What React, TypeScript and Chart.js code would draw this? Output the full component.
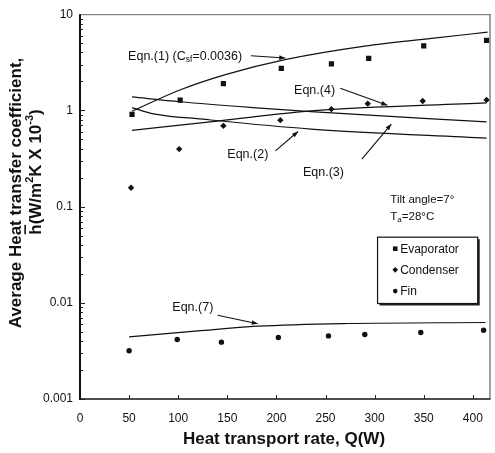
import React, { useEffect, useRef } from "react";
import { Chart, registerables } from "chart.js";

Chart.register(...registerables);

// ---------------- data ----------------
const xTickValues = [0, 50, 100, 150, 200, 250, 300, 350, 400];
const yTickValues = [0.001, 0.01, 0.1, 1, 10];

const evapQ = [53, 102, 146, 205, 256, 294, 350, 414];
const evaporator = [0.91, 1.28, 1.9, 2.74, 3.05, 3.47, 4.69, 5.33];

const condQ = [52, 101, 146, 204, 256, 293, 349, 414];
const condenser = [0.157, 0.396, 0.691, 0.792, 1.03, 1.176, 1.254, 1.285];

const finQ = [50, 99, 144, 202, 253, 290, 347, 411];
const fin = [0.00317, 0.00416, 0.0039, 0.00436, 0.00453, 0.00468, 0.00491, 0.00519];

const eqn1Q = [53, 101, 149, 210, 290, 358, 415];
const eqn1 = [0.98, 1.62, 2.37, 3.39, 4.66, 5.6, 6.5];

const eqn2Q = [53, 75, 125, 235, 414];
const eqn2 = [1.07, 0.92, 0.81, 0.64, 0.515];

const eqn3Q = [53, 102, 176, 235, 414];
const eqn3 = [1.38, 1.23, 1.07, 0.97, 0.76];

const eqn4Q = [53, 142, 235, 414];
const eqn4 = [0.62, 0.78, 0.99, 1.2];

const eqn7Q = [50, 120, 181, 272, 413];
const eqn7 = [0.00442, 0.0051, 0.00571, 0.00609, 0.00624];

const legendLabels = ["Evaporator", "Condenser", "Fin"];

// ---------------- style ----------------
const FONT = '"Liberation Sans", Arial, Helvetica, sans-serif';
const INK = "#111";

type Seg = { t: string; size: number; bold?: boolean; dy?: number; over?: boolean };

function segFont(s: Seg) {
  return `${s.bold ? "bold " : ""}${s.size}px ${FONT}`;
}
function richWidth(ctx: CanvasRenderingContext2D, segs: Seg[]) {
  let w = 0;
  for (const s of segs) {
    ctx.font = segFont(s);
    w += ctx.measureText(s.t).width;
  }
  return w;
}
function drawRich(ctx: CanvasRenderingContext2D, segs: Seg[], x0: number, base: number) {
  let x = x0;
  ctx.textBaseline = "alphabetic";
  ctx.textAlign = "left";
  for (const s of segs) {
    ctx.font = segFont(s);
    ctx.fillText(s.t, x, base + (s.dy || 0));
    const w = ctx.measureText(s.t).width;
    if (s.over) ctx.fillRect(x + 0.5, base - s.size * 0.98, w - 1, 1.6);
    x += w;
  }
}

const A = 12.5; // annotation font size
const annotations: { segs: Seg[]; q: number; v: number; from: [number, number]; to: [number, number] }[] = [
  {
    segs: [
      { t: "Eqn.(1) (C", size: A },
      { t: "sf", size: 8.5, dy: 2.5 },
      { t: "=0.0036)", size: A },
    ],
    q: 49,
    v: 3.75,
    from: [174, 3.7],
    to: [209, 3.5],
  },
  { segs: [{ t: "Eqn.(4)", size: A }], q: 218, v: 1.63, from: [265, 1.7], to: [313, 1.13] },
  { segs: [{ t: "Eqn.(2)", size: A }], q: 150, v: 0.36, from: [199, 0.38], to: [222, 0.603] },
  { segs: [{ t: "Eqn.(3)", size: A }], q: 227, v: 0.23, from: [287, 0.312], to: [317, 0.72] },
  { segs: [{ t: "Eqn.(7)", size: A }], q: 94, v: 0.0092, from: [140, 0.00742], to: [181, 0.00606] },
];

const notes: { segs: Seg[]; q: number; v: number }[] = [
  { segs: [{ t: "Tilt angle=7°", size: 11.5 }], q: 316, v: 0.121 },
  {
    segs: [
      { t: "T", size: 11.5 },
      { t: "a", size: 8, dy: 2.5 },
      { t: "=28°C", size: 11.5 },
    ],
    q: 316,
    v: 0.0806,
  },
];

function pts(xs: number[], ys: number[]) {
  return xs.map((x, i) => ({ x, y: ys[i] }));
}

function lineDs(label: string, xs: number[], ys: number[]) {
  return {
    label,
    data: pts(xs, ys),
    showLine: true,
    borderColor: INK,
    borderWidth: 1.2,
    pointRadius: 0,
    fill: false,
    cubicInterpolationMode: "monotone" as const,
  };
}
function markDs(label: string, xs: number[], ys: number[], style: string, r: number) {
  return {
    label,
    data: pts(xs, ys),
    showLine: false,
    pointStyle: style,
    pointRadius: r,
    pointBackgroundColor: INK,
    pointBorderColor: INK,
    pointBorderWidth: 0,
  };
}

function drawMarker(ctx: CanvasRenderingContext2D, kind: number, x: number, y: number) {
  ctx.beginPath();
  if (kind === 0) {
    ctx.rect(x - 2.3, y - 2.3, 4.6, 4.6);
  } else if (kind === 1) {
    ctx.moveTo(x - 2.8, y);
    ctx.lineTo(x, y - 2.8);
    ctx.lineTo(x + 2.8, y);
    ctx.lineTo(x, y + 2.8);
    ctx.closePath();
  } else {
    ctx.arc(x, y, 2.3, 0, Math.PI * 2);
  }
  ctx.fill();
}

const decorPlugin = {
  id: "decor",
  beforeDraw(chart: any) {
    const ctx = chart.ctx as CanvasRenderingContext2D;
    ctx.save();
    ctx.fillStyle = "#fff";
    ctx.fillRect(0, 0, chart.width, chart.height);
    ctx.restore();
  },
  afterDraw(chart: any) {
    const ctx = chart.ctx as CanvasRenderingContext2D;
    const a = chart.chartArea;
    const xs = chart.scales.x;
    const ys = chart.scales.y;
    const px = (q: number) => xs.getPixelForValue(q);
    const py = (v: number) => ys.getPixelForValue(v);
    ctx.save();

    // frame
    ctx.strokeStyle = "#666";
    ctx.lineWidth = 1;
    ctx.beginPath();
    ctx.moveTo(a.left, a.top + 0.5);
    ctx.lineTo(a.right, a.top + 0.5);
    ctx.stroke();
    ctx.strokeStyle = "#444";
    ctx.beginPath();
    ctx.moveTo(a.right - 0.5, a.top);
    ctx.lineTo(a.right - 0.5, a.bottom);
    ctx.stroke();
    ctx.strokeStyle = INK;
    ctx.lineWidth = 1.6;
    ctx.beginPath();
    ctx.moveTo(a.left, a.bottom);
    ctx.lineTo(a.right, a.bottom);
    ctx.stroke();
    ctx.lineWidth = 2;
    ctx.beginPath();
    ctx.moveTo(a.left, a.top);
    ctx.lineTo(a.left, a.bottom + 1);
    ctx.stroke();

    // y ticks (inside)
    ctx.lineWidth = 1;
    ctx.strokeStyle = "#222";
    for (let e = -3; e <= 0; e++) {
      for (let k = 1; k <= 9; k++) {
        const v = k * Math.pow(10, e);
        const yy = Math.round(py(v)) + 0.5;
        const len = k === 1 ? 5 : 3;
        ctx.beginPath();
        ctx.moveTo(a.left, yy);
        ctx.lineTo(a.left + len, yy);
        ctx.stroke();
      }
    }
    // x ticks (inside)
    for (const q of xTickValues) {
      if (q === 0) continue;
      const xx = Math.round(px(q)) + 0.5;
      ctx.beginPath();
      ctx.moveTo(xx, a.bottom);
      ctx.lineTo(xx, a.bottom - 4);
      ctx.stroke();
    }

    // annotations
    ctx.fillStyle = INK;
    ctx.strokeStyle = INK;
    ctx.lineWidth = 1.1;
    for (const an of annotations) {
      drawRich(ctx, an.segs, px(an.q), py(an.v) + 4.5);
      const x1 = px(an.from[0]);
      const y1 = py(an.from[1]);
      const x2 = px(an.to[0]);
      const y2 = py(an.to[1]);
      ctx.beginPath();
      ctx.moveTo(x1, y1);
      ctx.lineTo(x2, y2);
      ctx.stroke();
      const ang = Math.atan2(y2 - y1, x2 - x1);
      const L = 6;
      const W = 2.3;
      ctx.beginPath();
      ctx.moveTo(x2, y2);
      ctx.lineTo(x2 - L * Math.cos(ang) + W * Math.sin(ang), y2 - L * Math.sin(ang) - W * Math.cos(ang));
      ctx.lineTo(x2 - L * Math.cos(ang) - W * Math.sin(ang), y2 - L * Math.sin(ang) + W * Math.cos(ang));
      ctx.closePath();
      ctx.fill();
    }
    for (const n of notes) {
      drawRich(ctx, n.segs, px(n.q), py(n.v) + 4);
    }

    // legend box
    const lx1 = px(303);
    const lx2 = px(405);
    const ly1 = py(0.0481);
    const ly2 = py(0.00983);
    ctx.fillStyle = "#222";
    ctx.fillRect(lx1 + 2, ly1 + 2, lx2 - lx1, ly2 - ly1);
    ctx.fillStyle = "#fff";
    ctx.fillRect(lx1, ly1, lx2 - lx1, ly2 - ly1);
    ctx.strokeStyle = "#111";
    ctx.lineWidth = 1.2;
    ctx.strokeRect(lx1, ly1, lx2 - lx1, ly2 - ly1);
    const rowV = [0.0365, 0.022, 0.01323];
    ctx.fillStyle = INK;
    legendLabels.forEach((lab, i) => {
      const yy = py(rowV[i]);
      drawMarker(ctx, i, px(321), yy);
      drawRich(ctx, [{ t: lab, size: 12 }], px(326), yy + 4.3);
    });

    // axis titles
    ctx.fillStyle = INK;
    const xt: Seg[] = [{ t: "Heat transport rate, Q(W)", size: 17, bold: true }];
    const xw = richWidth(ctx, xt);
    drawRich(ctx, xt, 284 - xw / 2, 444);

    const y1: Seg[] = [{ t: "Average Heat transfer coefficient,", size: 17, bold: true }];
    const w1 = richWidth(ctx, y1);
    ctx.save();
    ctx.translate(21, 193);
    ctx.rotate(-Math.PI / 2);
    drawRich(ctx, y1, -w1 / 2, 0);
    ctx.restore();

    const y2: Seg[] = [
      { t: "h", size: 17, bold: true, over: true },
      { t: "(W/m", size: 17, bold: true },
      { t: "2", size: 11, bold: true, dy: -8 },
      { t: "K X 10", size: 17, bold: true },
      { t: "-3", size: 11, bold: true, dy: -8 },
      { t: ")", size: 17, bold: true },
    ];
    const w2 = richWidth(ctx, y2);
    ctx.save();
    ctx.translate(41, 172);
    ctx.rotate(-Math.PI / 2);
    drawRich(ctx, y2, -w2 / 2, 0);
    ctx.restore();

    ctx.restore();
  },
};

export default function App() {
  const ref = useRef<HTMLCanvasElement>(null);

  useEffect(() => {
    const canvas = ref.current;
    if (!canvas) return;
    const chart = new Chart(canvas, {
      type: "scatter",
      data: {
        datasets: [
          markDs("Evaporator", evapQ, evaporator, "rect", 3.7),
          markDs("Condenser", condQ, condenser, "rectRot", 3.2),
          markDs("Fin", finQ, fin, "circle", 2.7),
          lineDs("Eqn.(1)", eqn1Q, eqn1),
          lineDs("Eqn.(2)", eqn2Q, eqn2),
          lineDs("Eqn.(3)", eqn3Q, eqn3),
          lineDs("Eqn.(4)", eqn4Q, eqn4),
          lineDs("Eqn.(7)", eqn7Q, eqn7),
        ] as any,
      },
      options: {
        responsive: false,
        animation: false,
        devicePixelRatio: 1,
        layout: { padding: { left: 0, top: 13, right: 2, bottom: 0 } },
        plugins: {
          legend: { display: false },
          tooltip: { enabled: false },
        },
        scales: {
          x: {
            type: "linear",
            min: 0,
            max: 418,
            grid: { display: false, drawTicks: false },
            border: { display: false },
            afterBuildTicks: (s: any) => {
              s.ticks = xTickValues.map((v) => ({ value: v }));
            },
            afterFit: (s: any) => {
              s.height = 54;
            },
            ticks: {
              autoSkip: false,
              maxRotation: 0,
              padding: 12,
              color: INK,
              font: { family: FONT, size: 12 },
              callback: (v: any) => String(v),
            },
          },
          y: {
            type: "logarithmic",
            min: 0.001,
            max: 10,
            grid: { display: false, drawTicks: false },
            border: { display: false },
            afterBuildTicks: (s: any) => {
              s.ticks = yTickValues.map((v) => ({ value: v }));
            },
            afterFit: (s: any) => {
              s.width = 80;
            },
            ticks: {
              autoSkip: false,
              padding: 7,
              color: INK,
              font: { family: FONT, size: 12 },
              callback: (v: any) => String(v),
            },
          },
        },
      },
      plugins: [decorPlugin],
    } as any);
    return () => chart.destroy();
  }, []);

  return (
    <div style={{ position: "absolute", left: 0, top: 0, width: 495, height: 453, background: "#fff" }}>
      <canvas ref={ref} width={495} height={453} style={{ display: "block" }} />
    </div>
  );
}
